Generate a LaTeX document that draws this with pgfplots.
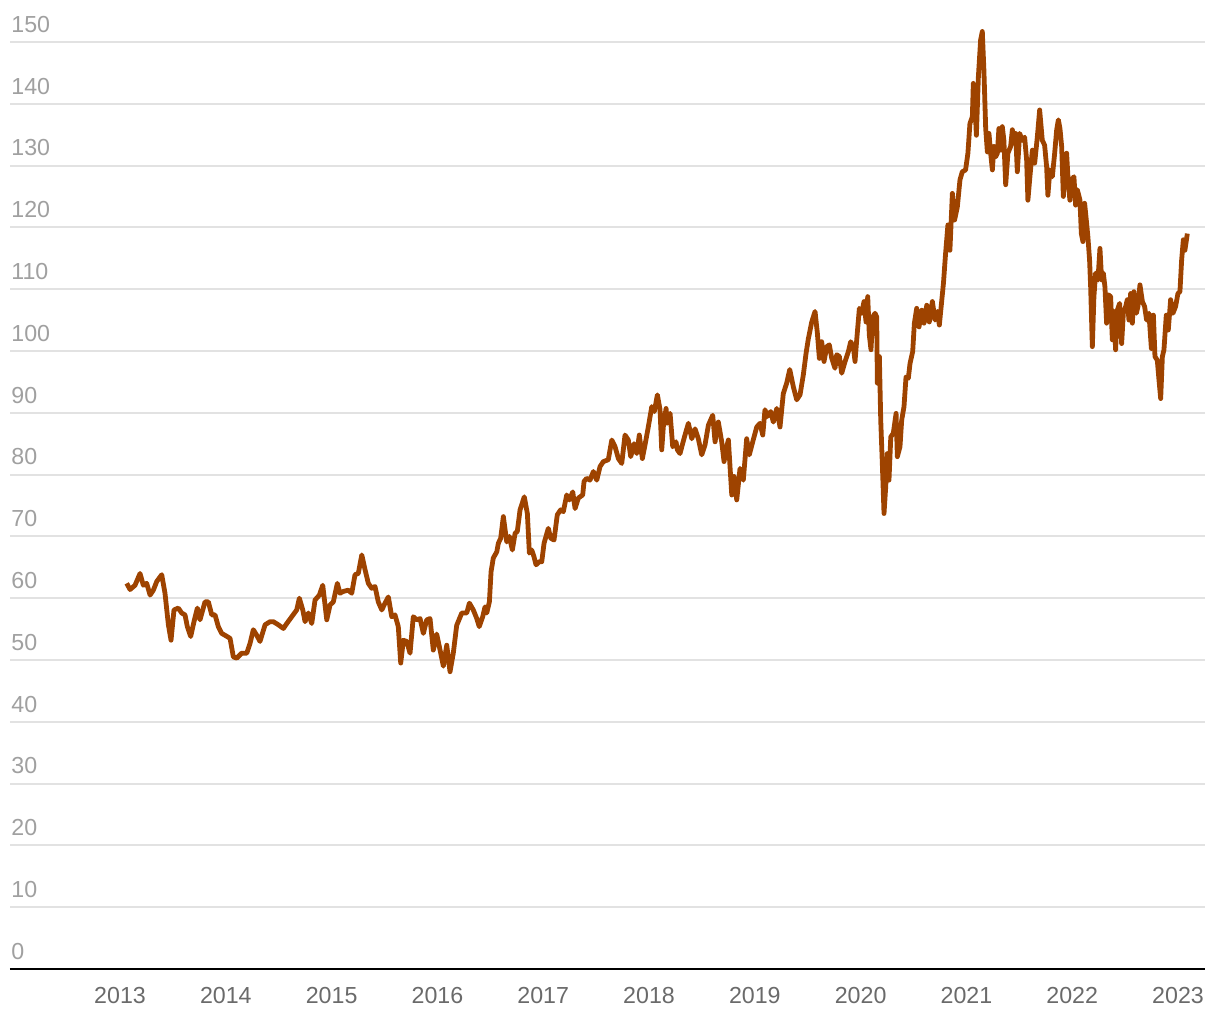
\documentclass[border=0pt]{standalone}
\usepackage{fontspec}
\setmainfont{Liberation Sans}
\usepackage{pgfplots}
\pgfplotsset{compat=1.18}
\definecolor{linec}{HTML}{9E4300}
\definecolor{gridc}{HTML}{E2E2E2}
\definecolor{ylab}{HTML}{A0A0A0}
\definecolor{xlab}{HTML}{6A6A6A}
\begin{document}
\begin{tikzpicture}
\begin{axis}[
  name=ax,
  scale only axis,
  width=597.5pt, height=463.5pt,
  xmin=2011.960, xmax=2023.255,
  ymin=0, ymax=150,
  axis line style={draw=none},
  major tick length=0pt,
  ymajorgrids,
  grid style={gridc, line width=1pt},
  ytick={0,10,...,150},
  xtick={2013,2014,2015,2016,2017,2018,2019,2020,2021,2022,2023},
  xticklabels={2013,2014,2015,2016,2017,2018,2019,2020,2021,2022,2023},
  /pgf/number format/assume math mode=true,
  yticklabel style={anchor=south west, inner sep=0pt, xshift=0.5pt, yshift=4.5pt, text=ylab, font=\fontsize{11.6}{14}\selectfont},
  xticklabel style={yshift=-5.5pt, text=xlab, font=\fontsize{11.6}{14}\selectfont},
  extra y ticks={0},
  extra y tick labels={},
  extra y tick style={grid style={black, line width=1pt}},
  clip=false,
]
\addplot[linec, line width=2.4pt, line join=round] coordinates {
(2013.063,62.4)(2013.095,61.4)(2013.142,62.1)(2013.189,64.0)(2013.220,62.1)(2013.252,62.4)
(2013.284,60.5)(2013.315,61.3)(2013.347,62.7)(2013.394,63.8)(2013.425,60.8)(2013.457,55.7)
(2013.482,53.2)(2013.510,58.1)(2013.551,58.4)(2013.583,57.6)(2013.614,57.3)(2013.636,55.4)
(2013.668,53.8)(2013.699,56.2)(2013.731,58.4)(2013.756,56.5)(2013.803,59.4)(2013.835,59.4)
(2013.867,57.3)(2013.898,57.3)(2013.929,55.4)(2013.961,54.3)(2013.992,54.0)(2014.040,53.5)
(2014.071,50.5)(2014.103,50.3)(2014.150,51.1)(2014.198,51.1)(2014.229,52.7)(2014.260,54.9)
(2014.292,54.0)(2014.323,53.0)(2014.371,55.7)(2014.418,56.2)(2014.449,56.2)(2014.496,55.7)
(2014.544,55.1)(2014.576,55.9)(2014.623,57.0)(2014.670,58.1)(2014.695,60.0)(2014.727,58.1)
(2014.749,56.2)(2014.780,57.6)(2014.812,55.9)(2014.843,59.7)(2014.884,60.5)(2014.916,62.1)
(2014.954,56.5)(2014.985,58.9)(2015.016,59.4)(2015.054,62.4)(2015.079,60.8)(2015.111,61.1)
(2015.158,61.3)(2015.190,60.8)(2015.221,63.8)(2015.252,64.0)(2015.285,67.0)(2015.316,64.6)
(2015.347,62.4)(2015.379,61.6)(2015.410,61.9)(2015.441,59.4)(2015.474,58.1)(2015.505,59.2)
(2015.536,60.2)(2015.568,57.0)(2015.599,57.3)(2015.630,55.4)(2015.653,49.5)(2015.678,53.2)
(2015.710,53.0)(2015.741,51.1)(2015.772,57.0)(2015.804,56.5)(2015.836,56.7)(2015.867,54.3)
(2015.899,56.5)(2015.930,56.7)(2015.961,51.6)(2015.993,54.2)(2016.025,51.6)(2016.056,49.0)
(2016.088,52.4)(2016.119,48.1)(2016.150,51.1)(2016.182,55.6)(2016.230,57.6)(2016.277,57.6)
(2016.302,59.2)(2016.339,58.1)(2016.372,56.7)(2016.395,55.4)(2016.428,57.0)(2016.450,58.6)
(2016.466,57.6)(2016.491,59.4)(2016.507,64.3)(2016.528,66.5)(2016.561,67.5)(2016.576,68.9)
(2016.598,69.7)(2016.623,73.2)(2016.655,69.1)(2016.680,70.0)(2016.708,67.8)(2016.734,70.5)
(2016.755,70.8)(2016.781,74.3)(2016.821,76.4)(2016.850,73.7)(2016.869,67.3)(2016.891,67.8)
(2016.913,66.7)(2016.932,65.4)(2016.963,65.9)(2016.986,65.9)(2017.008,68.9)(2017.048,71.3)
(2017.071,69.7)(2017.102,69.4)(2017.133,73.5)(2017.165,74.3)(2017.190,74.0)(2017.222,76.7)
(2017.247,75.9)(2017.279,77.2)(2017.301,74.5)(2017.332,76.2)(2017.373,76.7)(2017.386,78.9)
(2017.411,79.4)(2017.442,79.1)(2017.474,80.5)(2017.506,79.1)(2017.537,81.3)(2017.568,82.1)
(2017.615,82.4)(2017.648,85.6)(2017.679,84.5)(2017.710,82.6)(2017.742,81.8)(2017.773,86.4)
(2017.804,85.6)(2017.827,82.9)(2017.858,85.0)(2017.884,83.4)(2017.908,86.4)(2017.937,82.6)
(2017.962,84.8)(2017.993,87.7)(2018.026,91.0)(2018.050,90.2)(2018.079,92.9)(2018.104,90.5)
(2018.120,84.0)(2018.135,87.7)(2018.161,90.7)(2018.173,88.3)(2018.199,89.9)(2018.224,84.5)
(2018.255,85.3)(2018.268,84.0)(2018.293,83.4)(2018.319,85.1)(2018.340,86.4)(2018.372,88.3)
(2018.404,85.8)(2018.435,87.4)(2018.466,85.8)(2018.498,83.2)(2018.529,84.8)(2018.561,88.0)
(2018.602,89.6)(2018.624,85.3)(2018.655,88.5)(2018.687,85.3)(2018.709,82.1)(2018.734,84.5)
(2018.750,85.6)(2018.782,76.7)(2018.803,79.7)(2018.829,75.9)(2018.860,81.0)(2018.891,79.1)
(2018.923,85.8)(2018.948,83.2)(2018.980,85.3)(2019.018,87.7)(2019.049,88.3)(2019.075,86.4)
(2019.096,90.5)(2019.118,89.4)(2019.150,90.2)(2019.175,88.5)(2019.207,90.7)(2019.238,87.7)
(2019.269,93.1)(2019.301,94.8)(2019.330,97.0)(2019.364,94.2)(2019.396,92.1)(2019.427,92.9)
(2019.458,96.1)(2019.484,99.6)(2019.506,102.0)(2019.538,104.7)(2019.569,106.4)(2019.591,102.9)
(2019.610,98.8)(2019.632,101.5)(2019.654,98.3)(2019.680,100.7)(2019.704,101.0)(2019.727,98.8)
(2019.758,97.2)(2019.774,99.4)(2019.799,99.1)(2019.821,96.4)(2019.853,98.3)(2019.884,99.9)
(2019.906,101.5)(2019.931,100.7)(2019.947,98.3)(2019.963,101.8)(2019.988,106.9)(2020.010,106.1)
(2020.032,108.0)(2020.051,104.7)(2020.067,108.8)(2020.082,102.6)(2020.098,100.2)(2020.114,105.5)
(2020.136,106.1)(2020.152,105.5)(2020.158,94.8)(2020.177,99.1)(2020.190,88.8)(2020.205,81.8)
(2020.221,73.7)(2020.237,78.0)(2020.252,83.4)(2020.268,79.1)(2020.285,86.1)(2020.309,86.7)
(2020.335,89.9)(2020.347,82.9)(2020.372,84.5)(2020.388,88.8)(2020.410,91.0)(2020.429,95.8)
(2020.451,95.6)(2020.467,98.0)(2020.492,99.9)(2020.508,104.5)(2020.530,106.9)(2020.552,103.9)
(2020.578,106.6)(2020.599,104.5)(2020.625,107.4)(2020.649,104.7)(2020.678,108.0)(2020.703,105.0)
(2020.725,106.4)(2020.744,104.2)(2020.783,111.0)(2020.803,115.8)(2020.825,120.4)(2020.844,116.3)
(2020.867,125.5)(2020.888,121.2)(2020.914,123.3)(2020.939,127.7)(2020.961,129.0)(2020.992,129.3)
(2021.014,132.0)(2021.033,136.8)(2021.056,137.9)(2021.065,143.3)(2021.080,140.1)(2021.094,134.9)
(2021.113,144.4)(2021.134,150.3)(2021.150,151.7)(2021.165,145.5)(2021.182,136.0)(2021.198,132.2)
(2021.213,135.2)(2021.229,132.0)(2021.245,129.3)(2021.260,133.1)(2021.276,131.4)(2021.292,132.0)
(2021.307,136.0)(2021.323,132.5)(2021.339,136.3)(2021.354,134.1)(2021.371,126.9)(2021.392,132.0)
(2021.418,133.1)(2021.434,135.8)(2021.449,133.6)(2021.465,135.2)(2021.481,129.0)(2021.503,135.2)
(2021.528,134.1)(2021.550,134.6)(2021.569,130.9)(2021.581,124.4)(2021.600,128.2)(2021.623,132.5)
(2021.645,130.4)(2021.670,134.6)(2021.692,139.0)(2021.717,134.1)(2021.739,133.3)(2021.758,129.8)
(2021.770,125.2)(2021.789,129.3)(2021.812,128.2)(2021.834,132.0)(2021.853,135.8)(2021.869,137.4)
(2021.884,136.0)(2021.900,133.1)(2021.916,125.0)(2021.928,129.3)(2021.947,132.0)(2021.963,127.1)
(2021.978,124.4)(2021.994,127.7)(2022.016,128.2)(2022.032,123.6)(2022.048,126.1)(2022.073,124.4)
(2022.086,119.0)(2022.101,117.7)(2022.117,123.9)(2022.133,121.2)(2022.148,118.5)(2022.164,114.7)
(2022.174,110.4)(2022.190,100.7)(2022.205,108.8)(2022.221,112.6)(2022.243,111.5)(2022.262,116.6)
(2022.278,111.5)(2022.294,112.6)(2022.309,110.4)(2022.325,104.5)(2022.341,109.1)(2022.363,108.8)
(2022.379,101.8)(2022.394,106.4)(2022.410,100.2)(2022.426,106.6)(2022.448,107.7)(2022.467,101.2)
(2022.483,106.1)(2022.505,107.2)(2022.521,108.3)(2022.536,105.0)(2022.552,109.3)(2022.568,104.5)
(2022.583,109.6)(2022.606,106.1)(2022.621,107.2)(2022.640,110.7)(2022.663,108.0)(2022.684,107.2)
(2022.703,105.0)(2022.725,106.1)(2022.748,100.4)(2022.767,105.8)(2022.782,99.1)(2022.804,98.5)
(2022.820,95.3)(2022.836,92.3)(2022.852,99.1)(2022.867,100.2)(2022.889,105.8)(2022.908,103.4)
(2022.930,108.3)(2022.952,106.1)(2022.977,107.2)(2022.999,109.3)(2023.018,109.6)(2023.034,114.7)
(2023.050,118.0)(2023.065,116.3)(2023.088,119.0)
};
\end{axis}
\path ([xshift=-5pt,yshift=-25.5pt]ax.south west) rectangle ([xshift=7.5pt,yshift=21pt]ax.north east);
\end{tikzpicture}
\end{document}
